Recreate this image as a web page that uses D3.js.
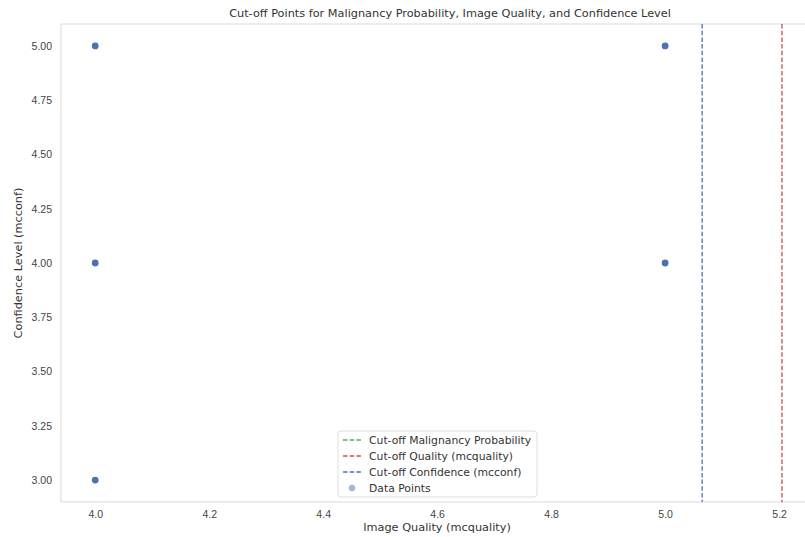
<!DOCTYPE html>
<html>
<head>
<meta charset="utf-8">
<script src="https://cdn.jsdelivr.net/npm/d3@7"></script>
<style>
  body { margin: 0; background: #fff; }
  svg { font-family: "DejaVu Sans", sans-serif; }
</style>
</head>
<body>
<svg id="chart" width="805" height="537"></svg>
<script>
// data points (mcquality, mcconf)
const qualityValues = [4, 4, 4, 5, 5];
const confValues = [5, 4, 3, 5, 4];

// cut-off lines
const cutoffNames = ["Cut-off Malignancy Probability", "Cut-off Quality (mcquality)", "Cut-off Confidence (mcconf)"];
const cutoffValues = [0.5, 5.205, 5.065];
const cutoffOrient = ["h", "v", "v"];
const cutoffColors = ["#55a868", "#c44e52", "#4c72b0"];

const xTicks = [4.0, 4.2, 4.4, 4.6, 4.8, 5.0, 5.2];
const yTicks = [3.0, 3.25, 3.5, 3.75, 4.0, 4.25, 4.5, 4.75, 5.0];

const margin = { top: 24, right: -14, bottom: 35, left: 61 };
const width = 805 - margin.left - margin.right;
const height = 537 - margin.top - margin.bottom;

const svg = d3.select("#chart");

const x = d3.scaleLinear().domain([3.94, 5.27]).range([0, width]);
const y = d3.scaleLinear().domain([2.899, 5.101]).range([height, 0]);

svg.append("defs").append("clipPath").attr("id", "clip")
  .append("rect").attr("width", width).attr("height", height);

const g = svg.append("g").attr("transform", `translate(${margin.left},${margin.top})`);

// frame
g.append("rect")
  .attr("width", width).attr("height", height)
  .attr("fill", "none").attr("stroke", "#d9d9d9").attr("stroke-width", 1);

// axes, no tick marks
const xAxis = g.append("g")
  .attr("transform", `translate(0,${height})`)
  .call(d3.axisBottom(x).tickValues(xTicks).tickFormat(d3.format(".1f")).tickSize(0).tickPadding(9));
const yAxis = g.append("g")
  .call(d3.axisLeft(y).tickValues(yTicks).tickFormat(d3.format(".2f")).tickSize(0).tickPadding(9));
[xAxis, yAxis].forEach(a => {
  a.select(".domain").remove();
  a.selectAll("text").attr("fill", "#444").style("font-size", "10.5px");
});

// cut-off lines
const plot = g.append("g").attr("clip-path", "url(#clip)");
cutoffValues.forEach((v, i) => {
  const l = plot.append("line")
    .attr("stroke", cutoffColors[i])
    .attr("stroke-width", 1.3)
    .attr("stroke-dasharray", "4.5,2.2");
  if (cutoffOrient[i] === "v") {
    l.attr("x1", x(v)).attr("x2", x(v)).attr("y1", 0).attr("y2", height);
  } else {
    l.attr("x1", 0).attr("x2", width).attr("y1", y(v)).attr("y2", y(v));
  }
});

// points
plot.selectAll("circle")
  .data(qualityValues.map((q, i) => ({ q, c: confValues[i] })))
  .enter().append("circle")
  .attr("cx", d => x(d.q))
  .attr("cy", d => y(d.c))
  .attr("r", 3.4)
  .attr("fill", "#4c72b0");

// titles
svg.append("text")
  .attr("x", 450).attr("y", 17)
  .attr("text-anchor", "middle")
  .attr("fill", "#333").style("font-size", "11.3px")
  .text("Cut-off Points for Malignancy Probability, Image Quality, and Confidence Level");

svg.append("text")
  .attr("x", 437).attr("y", 531)
  .attr("text-anchor", "middle")
  .attr("fill", "#333").style("font-size", "11.3px")
  .text("Image Quality (mcquality)");

svg.append("text")
  .attr("transform", "translate(22,263) rotate(-90)")
  .attr("text-anchor", "middle")
  .attr("fill", "#333").style("font-size", "11.3px")
  .text("Confidence Level (mcconf)");

// legend
const legend = svg.append("g").attr("transform", "translate(338,431)");
legend.append("rect")
  .attr("width", 199).attr("height", 66).attr("rx", 3)
  .attr("fill", "#fff").attr("fill-opacity", 0.8)
  .attr("stroke", "#dedede");
cutoffNames.forEach((name, i) => {
  const row = legend.append("g").attr("transform", `translate(0,${9 + i * 16})`);
  row.append("line")
    .attr("x1", 5).attr("x2", 24).attr("y1", 0).attr("y2", 0)
    .attr("stroke", cutoffColors[i]).attr("stroke-width", 1.3)
    .attr("stroke-dasharray", "4.5,2.2");
  row.append("text")
    .attr("x", 31).attr("y", 3.8)
    .attr("fill", "#333").style("font-size", "10.8px")
    .text(name);
});
const pRow = legend.append("g").attr("transform", `translate(0,${9 + 3 * 16})`);
pRow.append("circle").attr("cx", 14).attr("cy", 0).attr("r", 3.2)
  .attr("fill", "#4c72b0").attr("fill-opacity", 0.5);
pRow.append("text").attr("x", 31).attr("y", 3.8)
  .attr("fill", "#333").style("font-size", "10.8px")
  .text("Data Points");
</script>
</body>
</html>
